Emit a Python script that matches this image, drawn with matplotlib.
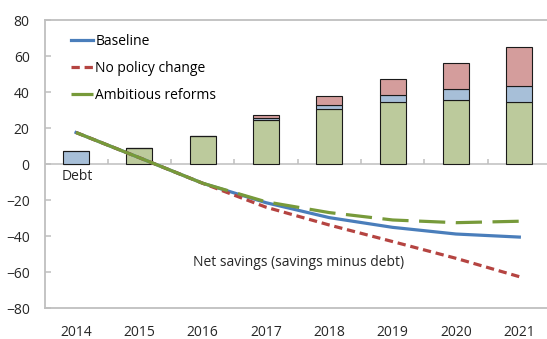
import numpy as np
from matplotlib import pyplot as plt

plt.rcParams['font.family'] = ['Open Sans', 'DejaVu Sans']
plt.rcParams['font.size'] = 10

# data
years = ["2014", "2015", "2016", "2017", "2018", "2019", "2020", "2021"]

# stacked bars (green bottom, blue middle, red top)
bar_green = [0.0, 8.7, 15.6, 24.4, 30.5, 34.3, 35.6, 34.6]
bar_blue = [7.4, 0.0, 0.0, 1.0, 2.5, 3.9, 6.1, 8.6]
bar_red = [0.0, 0.0, 0.0, 1.8, 4.9, 9.2, 14.6, 22.0]

# net savings lines
baseline = [17.5, 3.5, -10.7, -21.5, -29.8, -35.2, -38.9, -40.6]
no_policy = [17.5, 3.5, -10.7, -24.0, -33.9, -43.1, -52.4, -62.6]
ambitious = [17.5, 3.5, -10.7, -21.0, -27.0, -31.1, -32.6, -31.8]

yticks = [80, 60, 40, 20, 0, -20, -40, -60, -80]

c_blue = "#4A7EBB"
c_red = "#B54441"
c_green = "#779A3A"
f_green = "#BCCA9C"
f_blue = "#A7BFD8"
f_red = "#D49D9C"
grey = "#BFBFBF"
txt = "#262626"

fig = plt.figure(figsize=(5.47, 3.39), dpi=100)
ax = fig.add_axes([45 / 547, 1 - 308 / 339, 506 / 547, 288 / 339])

x = np.arange(len(years))
g = np.array(bar_green)
b = np.array(bar_blue)
r = np.array(bar_red)
w = 0.41
ax.bar(x, g, w, color=f_green, edgecolor="#1a1a1a", linewidth=0.8, zorder=2)
ax.bar(x, b, w, bottom=g, color=f_blue, edgecolor="#1a1a1a", linewidth=0.8, zorder=2)
ax.bar(x, r, w, bottom=g + b, color=f_red, edgecolor="#1a1a1a", linewidth=0.8, zorder=2)

# zero line with category ticks
ax.axhline(0, color=grey, lw=1.1, zorder=1)
ax.vlines(x[:-1] + 0.5, 0, 2.8, color=grey, lw=1.1, zorder=1)

ax.plot(x, baseline, color=c_blue, lw=2.3, label="Baseline", zorder=3)
ax.plot(x, no_policy, color=c_red, lw=2.3, dashes=(2.6, 1.5),
        label="No policy change", zorder=4)
ax.plot(x[:3], ambitious[:3], color=c_green, lw=2.3, label="Ambitious reforms",
        zorder=5, solid_capstyle="butt")
ax.plot(x[2:], ambitious[2:], color=c_green, lw=2.3, dashes=(8.2, 3.3), zorder=5)

ax.text(-0.22, -7.2, "Debt", ha="left", va="center", color=txt)
ax.text(1.85, -55, "Net savings (savings minus debt)", ha="left", va="center",
        color=txt)

ax.set_xlim(-0.49, 7.5)
ax.set_ylim(-80, 80)
ax.set_yticks(yticks)
ax.set_xticks(x, years)
ax.tick_params(axis="y", direction="in", length=4, color=grey, width=1.1,
               pad=11, labelcolor=txt)
ax.tick_params(axis="x", length=0, pad=12, labelcolor=txt)

for s in ["left", "bottom", "top"]:
    ax.spines[s].set_color(grey)
    ax.spines[s].set_linewidth(1.3)
ax.spines["right"].set_visible(False)

ax.legend(loc="upper left", bbox_to_anchor=(0.035, 0.98), frameon=False,
          handlelength=1.6, handletextpad=0.15, labelspacing=0.85,
          borderaxespad=0.2)

plt.savefig("out.png", dpi=100)
